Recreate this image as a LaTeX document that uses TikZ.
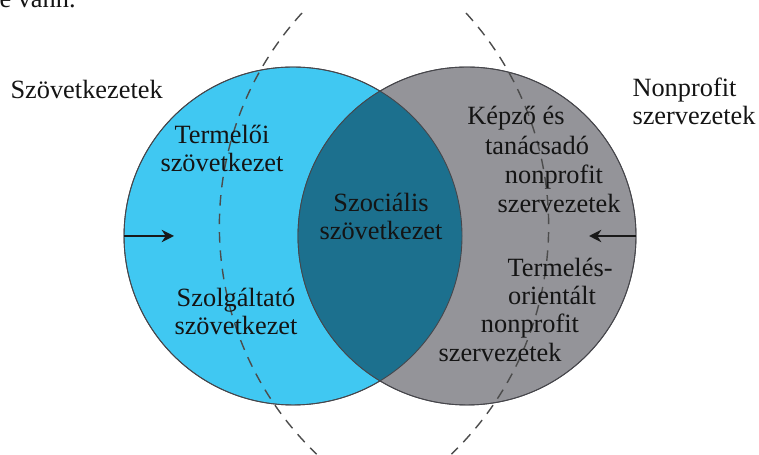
\documentclass[tikz,border=0pt]{standalone}
\usepackage{fontspec}
\setmainfont{Liberation Serif}
\usetikzlibrary{arrows.meta}

\definecolor{coopblue}{RGB}{64,200,242}
\definecolor{npogrey}{RGB}{148,148,153}
\definecolor{socteal}{RGB}{28,112,142}
\definecolor{rimgrey}{RGB}{70,70,75}

\begin{document}
\begin{tikzpicture}[
                x = 0.02cm,
                y = 0.02cm,
                every node/.style = {font=\fontsize{15}{16.5}\selectfont, text=black!92, inner sep=0pt},
                semithick
                ]

                \tikzstyle{set}=[
                        circle,
                        minimum size = 6.76cm,
                        draw = rimgrey,
                        line width = 0.5pt
                ]
                \tikzstyle{boundary}=[
                        draw = black!70,
                        line width = 0.8pt,
                        dash pattern = on 6pt off 4.5pt
                ]
                \tikzstyle{inflow}=[
                        -{Stealth[length=7pt, width=7pt]},
                        line width = 1.2pt,
                        black!90
                ]

                \useasboundingbox (0,0) rectangle (759,455);

                % the two sets
                \node[set, fill=coopblue] (coop) at (293,219) {};
                \node[set, fill=npogrey] (npo) at (467,219) {};
                \begin{scope}
                        \clip (coop.center) circle (169);
                        \fill[socteal] (npo.center) circle (169);
                \end{scope}
                \draw[rimgrey, line width=0.5pt] (coop.center) circle (169);
                \draw[rimgrey, line width=0.5pt] (npo.center) circle (169);

                % dashed borders
                \draw[boundary] (302,442) arc[start angle=137.6, end angle=226.2, radius=316];
                \draw[boundary] (466,442) arc[start angle=42.4, end angle=-46.2, radius=316];

                % arrows
                \coordinate (coopin) at (174,219);
                \coordinate (npoin) at (589,219);
                \draw[inflow] (coop.west) -- (coopin);
                \draw[inflow] (npo.east) -- (npoin);

                % labels
                \node[anchor=base west] (cut) at (-1,447) {e vann.};
                \node[anchor=base west] (cooplabel) at (10,356) {Szövetkezetek};
                \node[anchor=base west, align=left] (npolabel) at (632,330) {Nonprofit\\szervezetek};

                \node[align=center, anchor=base] (prod) at (222,283) {Termelői\\szövetkezet};
                \node[align=center, anchor=base] (serv) at (236,120) {Szolgáltató\\szövetkezet};
                \node[align=center, anchor=base] (social) at (381,215) {Szociális\\szövetkezet};

                \node[anchor=base] (train1) at (516,330) {Képző és};
                \node[anchor=base] (train2) at (537,300) {tanácsadó};
                \node[anchor=base] (train3) at (554,271) {nonprofit};
                \node[anchor=base] (train4) at (559,242) {szervezetek};

                \node[anchor=base] (orient1) at (560,178) {Termelés-};
                \node[anchor=base] (orient2) at (552,150) {orientált};
                \node[anchor=base] (orient3) at (530,122) {nonprofit};
                \node[anchor=base] (orient4) at (500,93) {szervezetek};
\end{tikzpicture}
\end{document}
